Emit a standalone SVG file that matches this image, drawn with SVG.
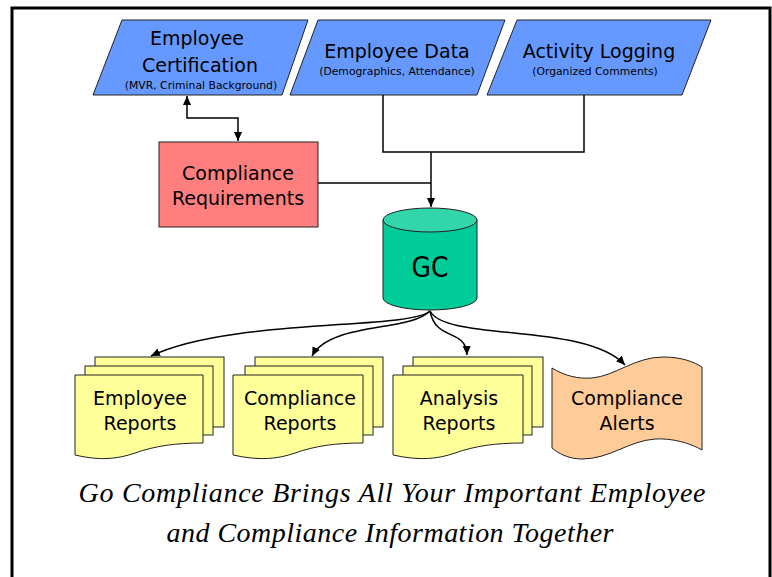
<svg xmlns="http://www.w3.org/2000/svg" width="772" height="577" viewBox="0 0 772 577">
<defs>
<marker id="ah" viewBox="0 0 10 10" refX="10" refY="5" markerWidth="9" markerHeight="9" markerUnits="userSpaceOnUse" orient="auto-start-reverse"><path d="M0,0.5 L10,5 L0,9.5 Z" fill="#000"/></marker>
<style>
.lbl{font-family:"DejaVu Sans",Verdana,sans-serif;font-size:19px;fill:#000;text-anchor:middle}
.sm{font-family:"DejaVu Sans",Verdana,sans-serif;font-size:10.8px;fill:#000;text-anchor:middle}
.para{fill:#6699FF;stroke:#222;stroke-width:1}
.doc{fill:#FFFF99;stroke:#222;stroke-width:1}
.conn{fill:none;stroke:#000;stroke-width:1.5}
.cap{font-family:"Liberation Serif","Times New Roman",serif;font-style:italic;font-size:28px;fill:#000;text-anchor:middle}
</style>
</defs>
<rect width="772" height="577" fill="#fff"/>
<path d="M12,577 V8 H770 V577" fill="none" stroke="#000" stroke-width="3"/>

<g id="employee-certification">
<polygon class="para" points="122,20 308,20 282,95 93,95"/>
<text class="lbl" x="197" y="45">Employee</text>
<text class="lbl" x="200" y="72">Certification</text>
<text class="sm" x="201" y="89">(MVR, Criminal Background)</text>
</g>
<g id="employee-data">
<polygon class="para" points="318,20 505,20 477,95 290,95"/>
<text class="lbl" x="397" y="58">Employee Data</text>
<text class="sm" x="397" y="75">(Demographics, Attendance)</text>
</g>
<g id="activity-logging">
<polygon class="para" points="517,20 711,20 682,95 487,95"/>
<text class="lbl" x="599" y="58">Activity Logging</text>
<text class="sm" x="595" y="75">(Organized Comments)</text>
</g>
<g id="compliance-requirements">
<rect x="159" y="142" width="159" height="85" fill="#FF7F7F" stroke="#222" stroke-width="1"/>
<text class="lbl" x="238" y="180">Compliance</text>
<text class="lbl" x="238" y="205">Requirements</text>
</g>
<g id="gc">
<path d="M383,220 V298 A47,12 0 0 0 477,298 V220 Z" fill="#00CC99" stroke="#222" stroke-width="1"/>
<ellipse cx="430" cy="220" rx="47" ry="12" fill="#33D6AA" stroke="#222" stroke-width="1"/>
<text class="lbl" x="430" y="277" style="font-size:29px" textLength="37" lengthAdjust="spacingAndGlyphs">GC</text>
</g>
<g id="employee-reports">
<rect class="doc" x="95" y="357" width="129" height="70"/>
<rect class="doc" x="85" y="366" width="128" height="69"/>
<path class="doc" d="M75,375 H203 V443 C175,443 155,446 135,453 C118,459 100,461 75,455 Z"/>
<text class="lbl" x="140" y="405">Employee</text>
<text class="lbl" x="140" y="430">Reports</text>
</g>
<g id="compliance-reports">
<rect class="doc" x="255" y="357" width="128" height="70"/>
<rect class="doc" x="245" y="366" width="128" height="69"/>
<path class="doc" d="M233,375 H363 V443 C335,443 315,446 295,453 C278,459 260,461 233,455 Z"/>
<text class="lbl" x="300" y="405">Compliance</text>
<text class="lbl" x="300" y="430">Reports</text>
</g>
<g id="analysis-reports">
<rect class="doc" x="413" y="357" width="130" height="70"/>
<rect class="doc" x="403" y="366" width="129" height="69"/>
<path class="doc" d="M393,375 H523 V443 C495,443 475,446 455,453 C438,459 420,461 393,455 Z"/>
<text class="lbl" x="459" y="405">Analysis</text>
<text class="lbl" x="459" y="430">Reports</text>
</g>
<g id="compliance-alerts">
<path d="M552,368 C565,376 578,379 592,378 C615,376 635,357 663,357 C682,357 694,362 702,367 V450 C690,443 672,438 655,439 C628,441 610,459 582,459 C568,459 558,453 552,448 Z" fill="#FFCC99" stroke="#222" stroke-width="1"/>
<text class="lbl" x="627" y="405">Compliance</text>
<text class="lbl" x="627" y="430">Alerts</text>
</g>

<g id="connectors">
<path class="conn" d="M187,96 V118 H238 V141" marker-start="url(#ah)" marker-end="url(#ah)"/>
<path class="conn" d="M383,95 V152 H584 V95"/>
<path class="conn" d="M318,183 H431"/>
<path class="conn" d="M431,152 V207" marker-end="url(#ah)"/>
<path class="conn" d="M430,311 C410,330 230,318 151,356" marker-end="url(#ah)"/>
<path class="conn" d="M430,311 C410,332 330,322 312,356" marker-end="url(#ah)"/>
<path class="conn" d="M430,311 C436,342 466,328 467,355" marker-end="url(#ah)"/>
<path class="conn" d="M430,311 C446,342 585,322 625,365" marker-end="url(#ah)"/>
</g>

<text class="cap" x="392" y="502" textLength="627" lengthAdjust="spacing">Go Compliance Brings All Your Important Employee</text>
<text class="cap" x="390" y="542" textLength="447" lengthAdjust="spacing">and Compliance Information Together</text>
</svg>
